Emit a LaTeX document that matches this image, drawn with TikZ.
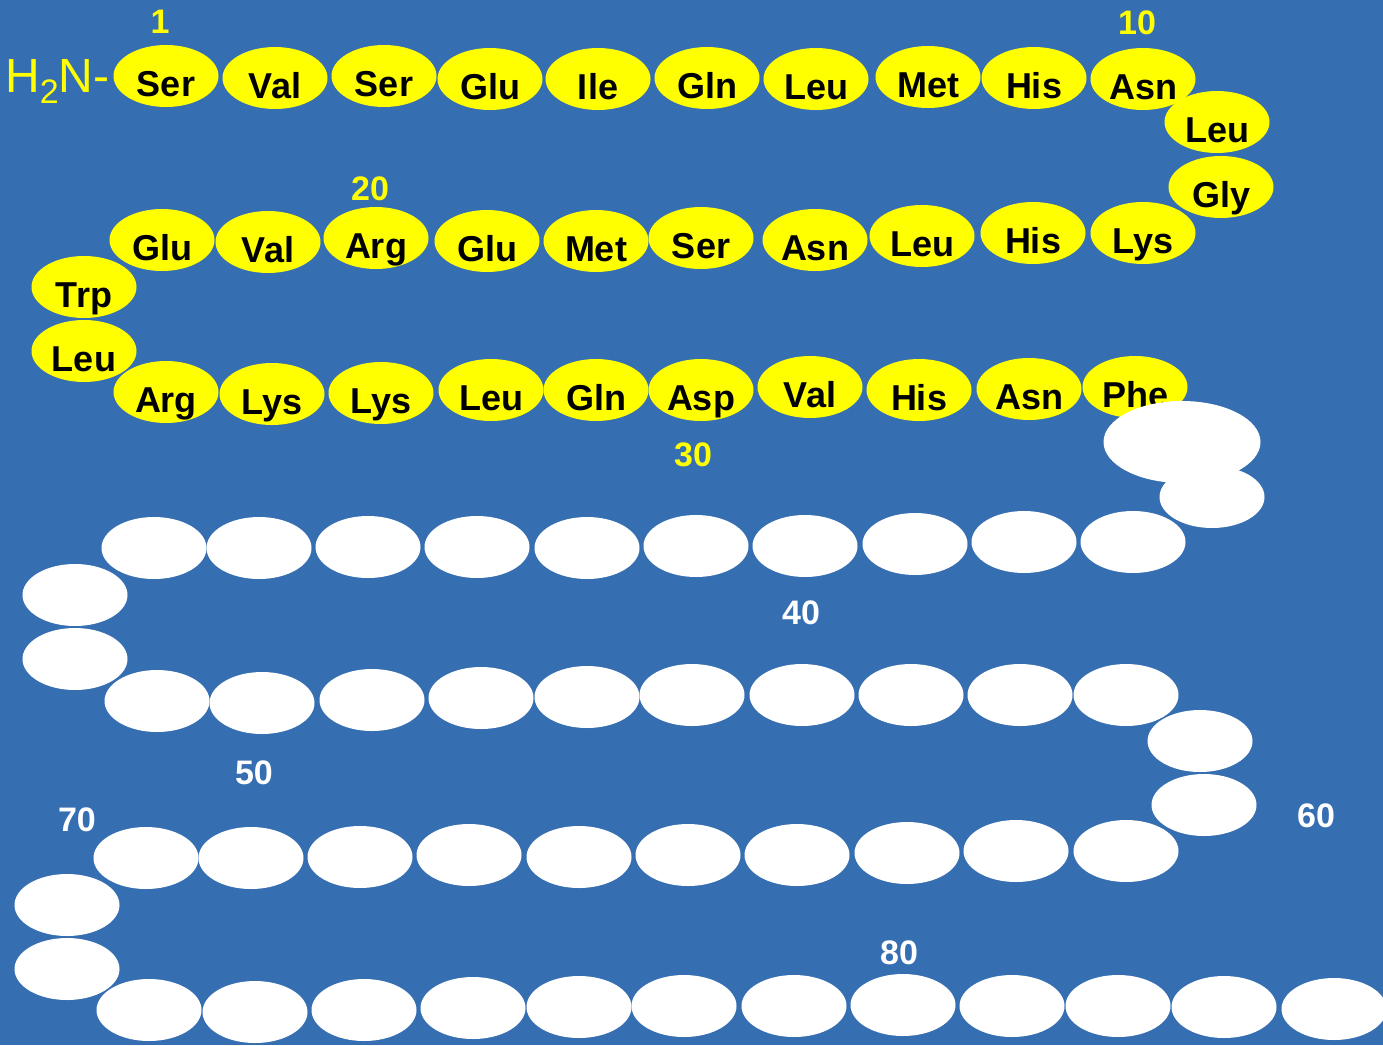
\documentclass[tikz,border=0pt]{standalone}
\usepackage{fontspec}
\setmainfont{Liberation Sans}
\usetikzlibrary{shapes.geometric}
\definecolor{bg}{RGB}{54,110,178}
\definecolor{aayellow}{RGB}{255,255,0}
\begin{document}
\begin{tikzpicture}[x=1pt,y=-1pt,
  residue/.style={ellipse, fill=aayellow, minimum width=105pt, minimum height=62pt,
    inner sep=0pt, text height=40pt, text depth=0pt,
    font=\fontsize{36}{36}\selectfont\bfseries},
  blank/.style={ellipse, fill=white, minimum width=105pt, minimum height=62pt, inner sep=0pt},
  num/.style={inner sep=0pt, font=\fontsize{34}{34}\selectfont\bfseries},
  ynum/.style={num, text=aayellow},
  wnum/.style={num, text=white}]
\useasboundingbox (0,0) rectangle (1383,1045);
\fill[bg] (0,0) rectangle (1383,1045);

% N-terminus
\node[text=aayellow, inner sep=0pt, anchor=base west,
  font=\fontsize{48}{48}\selectfont] (nterm) at (5,92)
  {H\raisebox{-11pt}{\fontsize{34}{34}\selectfont 2}N-};

% named residues 1-34
\foreach \x/\y/\t [count=\i] in {
  166/76/Ser, 275/78/Val, 384/76/Ser, 490/79/Glu, 598/79/Ile,
  707/78/Gln, 816/79/Leu, 928/77/Met, 1034/78/His, 1143/79/Asn,
  1217/122/Leu, 1221/187/Gly, 1143/233/Lys,
  1033/233/His, 922/236/Leu, 815/240/Asn, 701/238/Ser, 596/241/Met,
  487/241/Glu, 376/238/Arg, 268/242/Val, 162/240/Glu,
  84/287/Trp, 84/351/Leu,
  166/392/Arg, 272/394/Lys, 381/393/Lys, 491/390/Leu, 596/390/Gln,
  701/390/Asp, 810/387/Val, 919/390/His, 1029/389/Asn, 1135/387/Phe}
  \node[residue] (r\i) at (\x,\y) {\t};

% unnamed residues 35-84
\node[blank, minimum width=157pt, minimum height=82pt] (r35) at (1182,442) {};
\foreach \x/\y [count=\j from 36] in {
  1212/497, 1133/542, 1024/542, 915/544, 805/546, 696/546, 587/548,
  477/547, 368/547, 259/548, 154/548,
  75/595, 75/659,
  157/701, 262/703, 372/700, 481/698, 587/697, 692/695, 802/695,
  911/695, 1020/695, 1126/695,
  1200/741, 1204/805,
  1126/851, 1016/851, 907/853, 797/855, 688/855, 579/857, 469/855,
  360/857, 251/858, 146/858,
  67/905, 67/969,
  149/1010, 255/1012, 364/1010, 473/1008, 579/1007, 684/1006,
  794/1006, 903/1005, 1012/1006, 1118/1006, 1224/1007, 1334/1009}
  \node[blank] (r\j) at (\x,\y) {};

% position numbers
\node[ynum] (n1)  at (160,22)   {1};
\node[ynum] (n10) at (1137,23)  {10};
\node[ynum] (n20) at (370,189)  {20};
\node[ynum] (n30) at (693,455)  {30};
\node[wnum] (n40) at (801,613)  {40};
\node[wnum] (n50) at (254,773)  {50};
\node[wnum] (n60) at (1316,816) {60};
\node[wnum] (n70) at (77,820)   {70};
\node[wnum] (n80) at (899,953)  {80};
\end{tikzpicture}
\end{document}
